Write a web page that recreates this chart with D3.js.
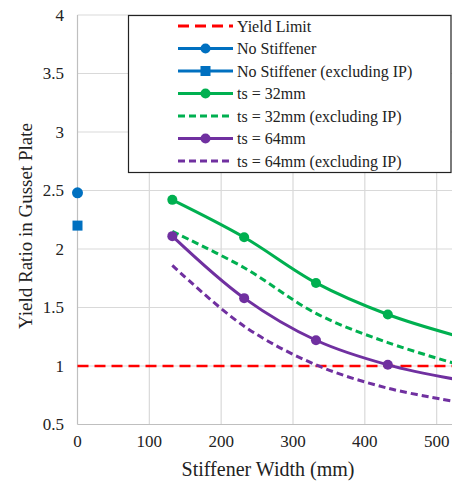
<!DOCTYPE html>
<html>
<head>
<meta charset="utf-8">
<script src="https://cdn.jsdelivr.net/npm/d3@7"></script>
<style>
  body { margin: 0; background: #fff; }
  svg { display: block; font-family: "Liberation Serif", serif; }
</style>
</head>
<body>
<div class="chart"></div>
<script>
// stiffener widths (mm) and yield ratios
var widths = [132, 232, 332, 432, 532];
var ts32 = [2.42, 2.10, 1.71, 1.44, 1.25];
var ts32Ex = [2.15, 1.84, 1.45, 1.20, 1.01];
var ts64 = [2.11, 1.58, 1.22, 1.01, 0.88];
var ts64Ex = [1.86, 1.34, 1.01, 0.81, 0.69];
var noStiff = [{x: 0, y: 2.48}];
var noStiffEx = [{x: 0, y: 2.20}];
var yieldLimit = 1;

var xGrid = [100, 200, 300, 400, 500, 600];
var xTicks = [0, 100, 200, 300, 400, 500];
var yTicks = [0.5, 1, 1.5, 2, 2.5, 3, 3.5, 4];

var W = 452, H = 485;
var x = d3.scaleLinear().domain([0, 600]).range([77.5, 508.5]);
var y = d3.scaleLinear().domain([0.5, 4]).range([424.5, 15]);

var svg = d3.select('.chart').append('svg')
  .attr('width', W)
  .attr('height', H);

// grid
svg.append('g').selectAll('line.h')
  .data(yTicks.slice(1))
  .enter().append('line')
  .attr('x1', x(0)).attr('x2', x(600))
  .attr('y1', function(d){ return y(d); }).attr('y2', function(d){ return y(d); })
  .attr('stroke', '#d9d9d9').attr('stroke-width', 1.2);
svg.append('g').selectAll('line.v')
  .data(xGrid)
  .enter().append('line')
  .attr('x1', function(d){ return x(d); }).attr('x2', function(d){ return x(d); })
  .attr('y1', y(0.5)).attr('y2', y(4))
  .attr('stroke', '#d9d9d9').attr('stroke-width', 1.2);

// axis lines
svg.append('line')
  .attr('x1', x(0)).attr('x2', x(0)).attr('y1', y(0.5)).attr('y2', y(4))
  .attr('stroke', '#bfbfbf').attr('stroke-width', 1.2);
svg.append('line')
  .attr('x1', x(0)).attr('x2', x(600)).attr('y1', y(0.5)).attr('y2', y(0.5))
  .attr('stroke', '#bfbfbf').attr('stroke-width', 1.2);

// tick labels
svg.append('g').selectAll('text')
  .data(yTicks)
  .enter().append('text')
  .attr('x', 64).attr('y', function(d){ return y(d) + 5.5; })
  .attr('text-anchor', 'end')
  .attr('font-size', 17).attr('fill', '#222')
  .text(function(d){ return d; });
svg.append('g').selectAll('text')
  .data(xTicks)
  .enter().append('text')
  .attr('x', function(d){ return x(d); }).attr('y', 447)
  .attr('text-anchor', 'middle')
  .attr('font-size', 17).attr('fill', '#222')
  .text(function(d){ return d; });

// axis titles
svg.append('text')
  .attr('x', 268).attr('y', 476)
  .attr('text-anchor', 'middle')
  .attr('font-size', 20).attr('fill', '#222')
  .text('Stiffener Width (mm)');
svg.append('text')
  .attr('transform', 'translate(32,' + 226 + ') rotate(-90)')
  .attr('text-anchor', 'middle')
  .attr('font-size', 19).attr('fill', '#222')
  .text('Yield Ratio in Gusset Plate');

// series
var line = d3.line()
  .x(function(d){ return x(d[0]); })
  .y(function(d){ return y(d[1]); })
  .curve(d3.curveCatmullRom.alpha(0.5));

var series = [
  {vals: ts32, color: '#00b050', dash: null, marker: true},
  {vals: ts32Ex, color: '#00b050', dash: '7,4', marker: false},
  {vals: ts64, color: '#7030a0', dash: null, marker: true},
  {vals: ts64Ex, color: '#7030a0', dash: '7,4', marker: false}
];

// yield limit
svg.append('line')
  .attr('x1', x(0)).attr('x2', x(600))
  .attr('y1', y(yieldLimit)).attr('y2', y(yieldLimit))
  .attr('stroke', '#ff0000').attr('stroke-width', 2.5)
  .attr('stroke-dasharray', '11,6');

series.forEach(function(s){
  var pts = widths.map(function(w, i){ return [w, s.vals[i]]; });
  svg.append('path')
    .attr('d', line(pts))
    .attr('fill', 'none')
    .attr('stroke', s.color)
    .attr('stroke-width', 3)
    .attr('stroke-dasharray', s.dash);
  if (s.marker) {
    svg.append('g').selectAll('circle')
      .data(pts)
      .enter().append('circle')
      .attr('cx', function(d){ return x(d[0]); })
      .attr('cy', function(d){ return y(d[1]); })
      .attr('r', 5)
      .attr('fill', s.color);
  }
});

svg.selectAll('circle.ns')
  .data(noStiff)
  .enter().append('circle')
  .attr('cx', function(d){ return x(d.x); })
  .attr('cy', function(d){ return y(d.y); })
  .attr('r', 5.5)
  .attr('fill', '#0070c0');
svg.selectAll('rect.nse')
  .data(noStiffEx)
  .enter().append('rect')
  .attr('x', function(d){ return x(d.x) - 5; })
  .attr('y', function(d){ return y(d.y) - 5; })
  .attr('width', 10).attr('height', 10)
  .attr('fill', '#0070c0');

// legend
var legendItems = [
  {label: 'Yield Limit', color: '#ff0000', dash: '11,6', marker: null},
  {label: 'No Stiffener', color: '#0070c0', dash: null, marker: 'circle'},
  {label: 'No Stiffener (excluding IP)', color: '#0070c0', dash: null, marker: 'square'},
  {label: 'ts = 32mm', color: '#00b050', dash: null, marker: 'circle'},
  {label: 'ts = 32mm (excluding IP)', color: '#00b050', dash: '7,4', marker: null},
  {label: 'ts = 64mm', color: '#7030a0', dash: null, marker: 'circle'},
  {label: 'ts = 64mm (excluding IP)', color: '#7030a0', dash: '7,4', marker: null}
];

var legend = svg.append('g');
legend.append('rect')
  .attr('x', 128.5).attr('y', 15.5)
  .attr('width', 322.5).attr('height', 157)
  .attr('fill', '#fff')
  .attr('stroke', '#222').attr('stroke-width', 1.2);

var rows = legend.selectAll('g.row')
  .data(legendItems)
  .enter().append('g')
  .attr('transform', function(d, i){ return 'translate(0,' + (26 + i * 22.5) + ')'; });
rows.append('line')
  .attr('x1', 178).attr('x2', 233)
  .attr('stroke', function(d){ return d.color; })
  .attr('stroke-width', 3)
  .attr('stroke-dasharray', function(d){ return d.dash; });
rows.filter(function(d){ return d.marker == 'circle'; })
  .append('circle')
  .attr('cx', 205.5).attr('r', 5)
  .attr('fill', function(d){ return d.color; });
rows.filter(function(d){ return d.marker == 'square'; })
  .append('rect')
  .attr('x', 200.5).attr('y', -5).attr('width', 10).attr('height', 10)
  .attr('fill', function(d){ return d.color; });
rows.append('text')
  .attr('x', 237).attr('y', 5.5)
  .attr('font-size', 16).attr('fill', '#222')
  .text(function(d){ return d.label; });
</script>
</body>
</html>
